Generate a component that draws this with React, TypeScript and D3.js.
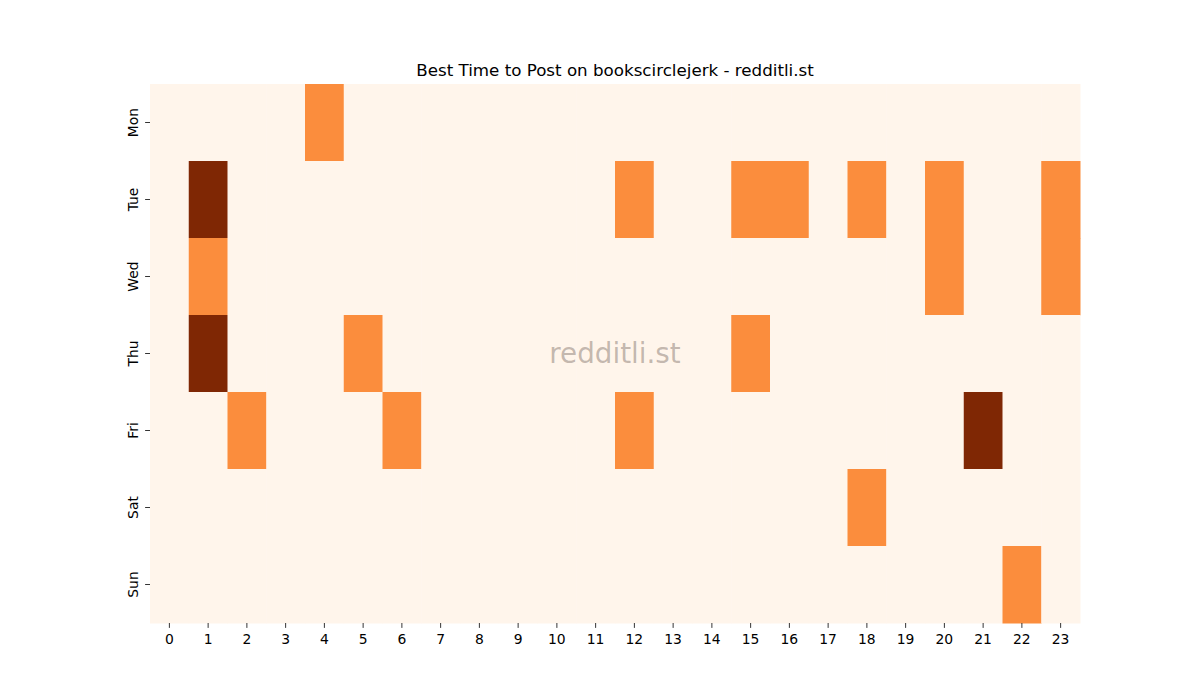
import React from "react";
import * as d3 from "d3";

const days = ["Mon", "Tue", "Wed", "Thu", "Fri", "Sat", "Sun"];
const hours = d3.range(24).map(String);
// [dayIndex, hour, value]
const cells: [number, number, number][] = [
  [0, 4, 1],
  [1, 1, 2], [1, 12, 1], [1, 15, 1], [1, 16, 1], [1, 18, 1], [1, 20, 1], [1, 23, 1],
  [2, 1, 1], [2, 20, 1], [2, 23, 1],
  [3, 1, 2], [3, 5, 1], [3, 15, 1],
  [4, 2, 1], [4, 6, 1], [4, 12, 1], [4, 21, 2],
  [5, 18, 1],
  [6, 22, 1],
];
const title = "Best Time to Post on bookscirclejerk - redditli.st";

export default function App() {
  const W = 1200, H = 700;
  const left = 150, right = 1080, top = 84, bottom = 623;
  const x = d3.scaleBand<string>().domain(hours).range([left, right]);
  const y = d3.scaleBand<string>().domain(days).range([top, bottom]);
  const color = d3.scaleSequential(d3.interpolateOranges).domain([0, 2]);
  const lookup = new Map<string, number>();
  cells.forEach(([d, h, v]) => lookup.set(`${d}-${h}`, v));
  const font = "DejaVu Sans, sans-serif";
  return (
    <svg width={W} height={H} style={{ position: "absolute", left: 0, top: 0 }} fontFamily={font}>
      <rect width={W} height={H} fill="#fff" />
      {days.map((d, di) =>
        hours.map((h, hi) => (
          <rect
            key={`${d}-${h}`}
            x={x(h)}
            y={y(d)}
            width={x.bandwidth() + 0.5}
            height={y.bandwidth() + 0.5}
            fill={color(lookup.get(`${di}-${hi}`) ?? 0)}
          />
        ))
      )}
      {hours.map((h) => {
        const cx = (x(h) as number) + x.bandwidth() / 2;
        return (
          <g key={h}>
            <line x1={cx} x2={cx} y1={bottom} y2={bottom + 4.9} stroke="#000" strokeWidth={0.8} />
            <text x={cx} y={bottom + 21} textAnchor="middle" fontSize={13.9} fill="#000">{h}</text>
          </g>
        );
      })}
      {days.map((d) => {
        const cy = (y(d) as number) + y.bandwidth() / 2;
        return (
          <g key={d}>
            <line x1={left - 4.9} x2={left} y1={cy} y2={cy} stroke="#000" strokeWidth={0.8} />
            <text
              transform={`translate(${left - 12},${cy}) rotate(-90)`}
              textAnchor="middle"
              fontSize={13.9}
              fill="#000"
            >{d}</text>
          </g>
        );
      })}
      <text x={(left + right) / 2} y={76} textAnchor="middle" fontSize={16.7} fill="#000">{title}</text>
      <text x={(left + right) / 2} y={363} textAnchor="middle" fontSize={27.8} fill="#7a6a62" fillOpacity={0.45}>redditli.st</text>
    </svg>
  );
}
